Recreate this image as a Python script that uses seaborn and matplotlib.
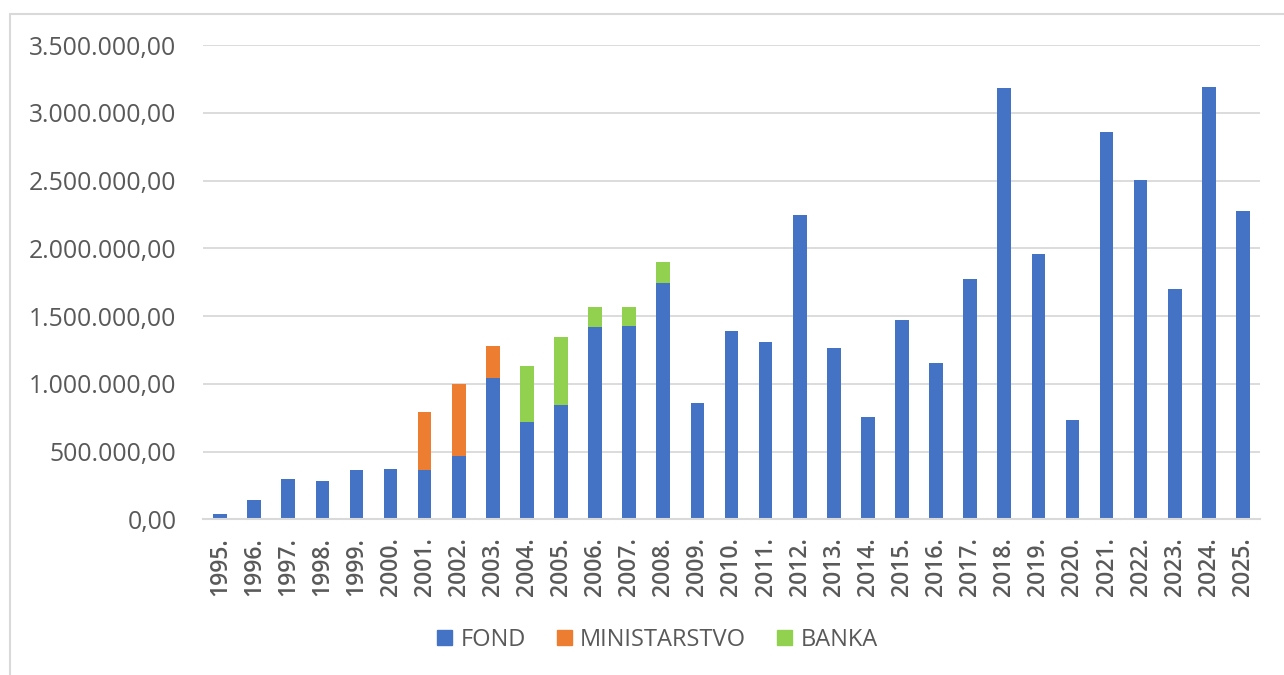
import pandas as pd
import seaborn as sns
import matplotlib.pyplot as plt
from matplotlib.lines import Line2D
from matplotlib.ticker import FuncFormatter

# --- Data ---
years = [f"{y}." for y in range(1995, 2026)]
fond = [40000, 140000, 300000, 286000, 365000, 373000, 365000, 464000, 1039000, 718000,
        847000, 1417000, 1427000, 1745000, 860000, 1387000, 1309000, 2245000, 1267000, 757000,
        1469000, 1156000, 1770000, 3183000, 1960000, 729000, 2859000, 2502000, 1703000, 3190000,
        2278000]
ministarstvo = [0, 0, 0, 0, 0, 0, 428000, 536000, 242000, 0,
                0, 0, 0, 0, 0, 0, 0, 0, 0, 0,
                0, 0, 0, 0, 0, 0, 0, 0, 0, 0, 0]
banka = [0, 0, 0, 0, 0, 0, 0, 0, 0, 412000,
         496000, 148000, 138000, 155000, 0, 0, 0, 0, 0, 0,
         0, 0, 0, 0, 0, 0, 0, 0, 0, 0, 0]
series = ["FOND", "MINISTARSTVO", "BANKA"]
colors = ["#4472C4", "#ED7D31", "#92D050"]

df = pd.DataFrame({"year": years, "FOND": fond, "MINISTARSTVO": ministarstvo, "BANKA": banka})

# --- Plot ---
sns.set_style("white")
plt.rcParams['font.family'] = ['Open Sans', 'DejaVu Sans']
text_color = "#595959"

fig = plt.figure(figsize=(12.84, 6.75), dpi=100)
ax = fig.add_axes([0.1581, 0.2307, 0.8232, 0.7026])

bottom = pd.Series(0, index=df.index)
for name, col in zip(series, colors):
    sns.barplot(data=df, x="year", y=name, order=years, color=col, width=0.4, saturation=1,
                bottom=bottom.values, linewidth=0, ax=ax)
    bottom = bottom + df[name]

ax.set_ylim(0, 3500000)
ax.set_xlim(-0.5, len(years) - 0.5)
ax.set_yticks(range(0, 3500001, 500000))
ax.yaxis.set_major_formatter(FuncFormatter(
    lambda v, p: f"{v:,.2f}".replace(",", "X").replace(".", ",").replace("X", ".")))
ax.grid(axis="y", color="#d9d9d9", linewidth=1.3)
ax.set_axisbelow(True)
for s in ["top", "right", "left"]:
    ax.spines[s].set_visible(False)
ax.spines["bottom"].set_color("#d9d9d9")
ax.spines["bottom"].set_linewidth(1.5)
ax.set_xlabel("")
ax.set_ylabel("")
ax.tick_params(axis="y", length=0, pad=19, labelsize=17.8, labelcolor=text_color)
ax.tick_params(axis="x", length=0, pad=13, labelsize=16.5, labelcolor=text_color, rotation=90)
for lbl in ax.get_xticklabels():
    lbl.set_fontweight("semibold")

handles = [plt.Rectangle((0, 0), 1, 1, color=c) for c in colors]
fig.legend(handles, series, loc="center", bbox_to_anchor=(0.512, 0.052), ncol=3,
           frameon=False, fontsize=17, labelcolor=text_color,
           handlelength=0.65, handleheight=0.65, handletextpad=0.35, columnspacing=1.3)

# outer chart border (left and top edges)
fig.add_artist(Line2D([10 / 1284, 10 / 1284], [0, 1 - 14 / 675], transform=fig.transFigure,
                      color="#d9d9d9", linewidth=1.5))
fig.add_artist(Line2D([10 / 1284, 1], [1 - 14 / 675, 1 - 14 / 675], transform=fig.transFigure,
                      color="#d9d9d9", linewidth=1.5))

fig.savefig("out.png", dpi=100)
